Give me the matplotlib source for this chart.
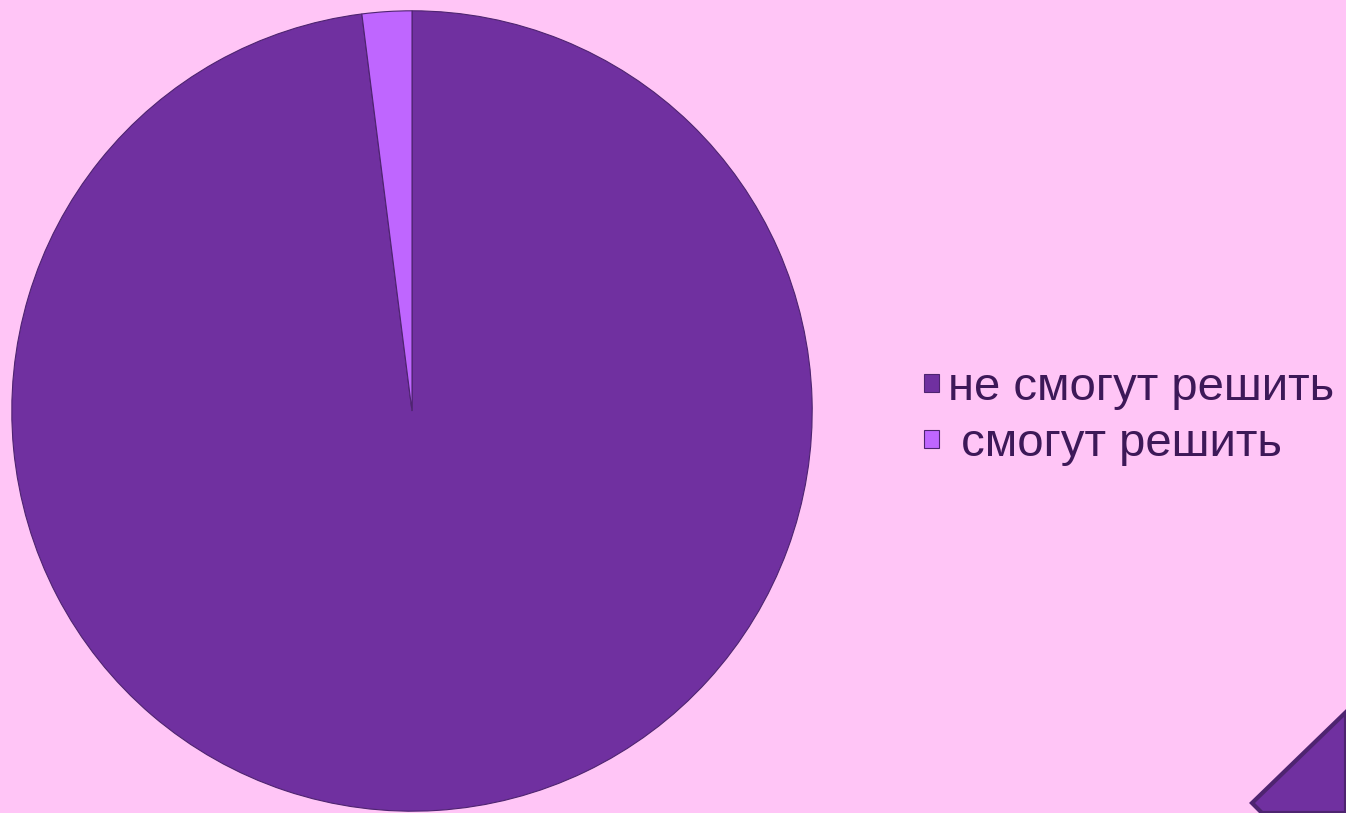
import matplotlib.pyplot as plt
from matplotlib.patches import Polygon

labels = ["не смогут решить", " смогут решить"]
values = [98, 2]
colors = ["#7030A0", "#BF66FF"]

bg = "#FFC5F6"
W, H = 1346, 813

fig = plt.figure(figsize=(W / 100, H / 100), dpi=100, facecolor=bg)
plt.rcParams['font.family'] = ['Liberation Sans', 'DejaVu Sans']

# pie axes: centre ~ (412, 411) px, radius ~ 400 px
cx, cy, r = 412, 411, 401
ax = fig.add_axes([(cx - r) / W, (H - cy - r) / H, 2 * r / W, 2 * r / H])
ax.set_facecolor(bg)
wedges, _ = ax.pie(values, colors=colors, startangle=90, counterclock=False,
                   radius=1, wedgeprops={"edgecolor": "#4e2470", "linewidth": 0.8})
ax.set_xlim(-1.002, 1.002)
ax.set_ylim(-1.002, 1.002)
ax.set_aspect("equal")
ax.axis("off")

leg = fig.legend(wedges, labels, loc="center left",
                 bbox_to_anchor=(924 / W, (H - 416) / H), borderaxespad=0,
                 frameon=False, fontsize=34, handlelength=0.32, handleheight=0.22,
                 handletextpad=0.18, labelspacing=0.25, borderpad=0)
for t in leg.get_texts():
    t.set_color("#3d1858")

# decorative corner shape
corner = Polygon([(1346, 712), (1252, 803), (1262, 813), (1346, 813)],
                 closed=True, facecolor="#7030A0", edgecolor="#4e2470", linewidth=3)
corner.set_xy([(x / 100, (H - y) / 100) for x, y in corner.get_xy()])
corner.set_transform(fig.dpi_scale_trans)
fig.patches.append(corner)

plt.savefig("out.png", dpi=100, facecolor=bg)
